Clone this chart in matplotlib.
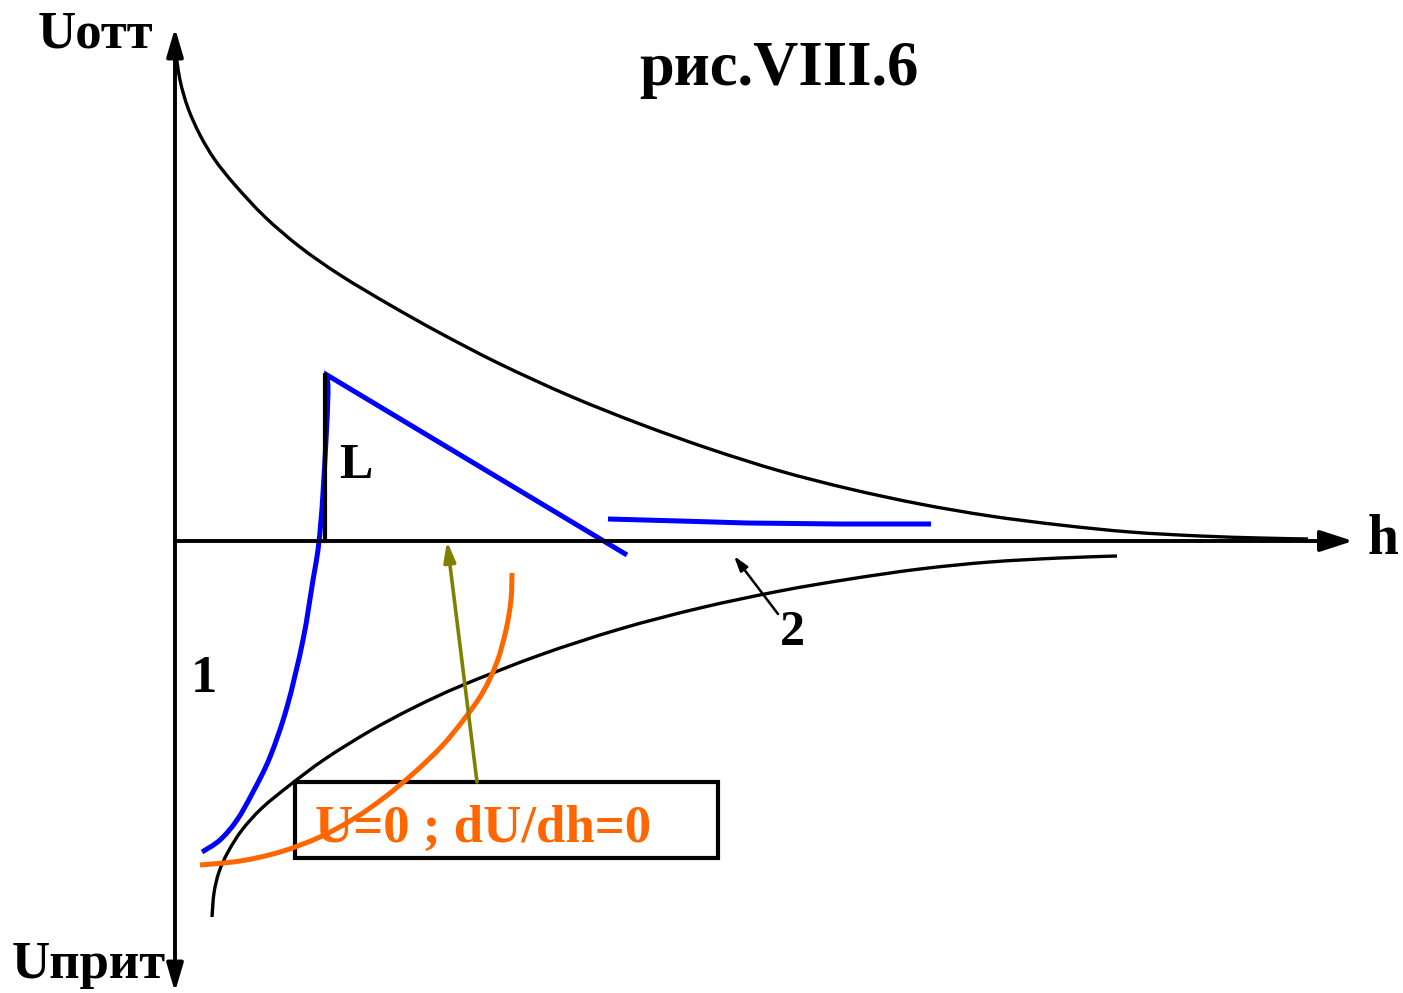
import matplotlib
matplotlib.use("Agg")
import matplotlib.pyplot as plt
import numpy as np
from matplotlib.patches import Rectangle, PathPatch
from matplotlib.path import Path

plt.rcParams['font.family'] = ['Liberation Serif', 'DejaVu Serif']

# ---- data (schematic curves in canvas units) ----
upper_x = [175, 180, 188, 200, 215, 235, 265, 300, 340, 390, 440, 500, 570, 640,
           710, 780, 850, 920, 990, 1060, 1130, 1200, 1260, 1308]
upper_y = [47, 80, 108, 135, 160, 185, 217, 247, 275, 305, 333, 364, 396, 424,
           449, 471, 489, 504, 516, 525, 532, 536, 538, 539]

lower_x = [212, 214, 219, 228, 242, 262, 290, 325, 370, 415, 463, 540, 620, 700,
           780, 850, 920, 990, 1060, 1117]
lower_y = [917, 893, 872, 852, 830, 808, 785, 759, 731, 707, 685, 655, 629, 608,
           591, 579, 569, 562, 558, 556]

blue_curve_x = [202, 220, 237, 253, 270, 287, 303, 313, 318, 321, 323, 326, 328, 327]
blue_curve_y = [852, 840, 820, 792, 757, 707, 640, 580, 550, 520, 493, 440, 393, 375]
blue_line_x = [327, 627]
blue_line_y = [375, 555]

blue2_x = [608, 680, 747, 840, 931]
blue2_y = [519, 521, 523, 524, 524]

orange_x = [200, 240, 280, 320, 355, 385, 415, 442, 465, 483, 497, 506, 511, 512]
orange_y = [865, 861, 852, 837, 818, 797, 772, 746, 718, 692, 662, 630, 600, 573]

L_line_x = [325, 325]
L_line_y = [375, 541]

labels = {
    "title": "рис.VIII.6",
    "yup": "Uотт",
    "ydown": "Uприт",
    "x": "h",
    "L": "L",
    "one": "1",
    "two": "2",
    "box": "U=0 ; dU/dh=0",
}


def smooth_vertices(xs, ys):
    """Catmull-Rom through the given points, expressed as cubic Bezier segments."""
    p = np.column_stack([xs, ys]).astype(float)
    n = len(p)
    verts = [p[0]]
    codes = [Path.MOVETO]
    for i in range(n - 1):
        p0 = p[i - 1] if i > 0 else p[i]
        p1 = p[i]
        p2 = p[i + 1]
        p3 = p[i + 2] if i + 2 < n else p[i + 1]
        c1 = p1 + (p2 - p0) / 6.0
        c2 = p2 - (p3 - p1) / 6.0
        verts += [c1, c2, p2]
        codes += [Path.CURVE4] * 3
    return verts, codes


def add_curve(ax, xs, ys, extra_x=None, extra_y=None, **kw):
    verts, codes = smooth_vertices(xs, ys)
    if extra_x is not None:
        for x, y in zip(extra_x[1:], extra_y[1:]):
            verts.append(np.array([x, y], float))
            codes.append(Path.LINETO)
    patch = PathPatch(Path(verts, codes), fill=False, **kw)
    ax.add_patch(patch)


# ---- figure ----
fig = plt.figure(figsize=(14.03, 9.93), dpi=100)
ax = fig.add_axes([0, 0, 1, 1])
ax.set_xlim(0, 1403)
ax.set_ylim(993, 0)
ax.axis('off')

# axes arrows
ax.annotate("", xy=(175, 28), xytext=(175, 541),
            arrowprops=dict(arrowstyle="-|>,head_length=1.7,head_width=0.5",
                            color="black", lw=2.8, shrinkA=0, shrinkB=0))
ax.annotate("", xy=(175, 992), xytext=(175, 541),
            arrowprops=dict(arrowstyle="-|>,head_length=1.7,head_width=0.5",
                            color="black", lw=2.8, shrinkA=0, shrinkB=0))
ax.annotate("", xy=(1353, 541), xytext=(175, 541),
            arrowprops=dict(arrowstyle="-|>,head_length=2.0,head_width=0.65",
                            color="black", lw=2.8, shrinkA=0, shrinkB=0))

# black curves
add_curve(ax, upper_x, upper_y, edgecolor="black", lw=2.4, capstyle="butt")
add_curve(ax, lower_x, lower_y, edgecolor="black", lw=2.4, capstyle="butt")
ax.plot(L_line_x, L_line_y, color="black", lw=3.0)

# blue curves
add_curve(ax, blue_curve_x, blue_curve_y, blue_line_x, blue_line_y,
          edgecolor="#0000FF", lw=3.6, joinstyle="miter", capstyle="butt")
ax.plot(blue2_x, blue2_y, color="#0000FF", lw=3.6, solid_capstyle="butt")

# box
ax.add_patch(Rectangle((295, 782), 423, 76, fill=False, edgecolor="black", lw=3.0, zorder=2))

# orange curve
add_curve(ax, orange_x, orange_y, edgecolor="#FF6600", lw=3.6, zorder=3, capstyle="butt")

# olive arrow
ax.annotate("", xy=(447, 541), xytext=(477, 782),
            arrowprops=dict(arrowstyle="-|>,head_length=1.2,head_width=0.35",
                            color="#808000", lw=2.6, shrinkA=0, shrinkB=0))

# arrow for label 2
ax.annotate("", xy=(734, 556), xytext=(778, 614),
            arrowprops=dict(arrowstyle="-|>,head_length=0.9,head_width=0.28",
                            color="black", lw=1.8, shrinkA=0, shrinkB=0))

# texts
bold = dict(fontweight="bold", color="black")
ax.text(779, 85, labels["title"], fontsize=45, ha="center", va="baseline", **bold)
ax.text(38, 48, labels["yup"], fontsize=38, ha="left", va="baseline", **bold)
ax.text(12, 978, labels["ydown"], fontsize=38, ha="left", va="baseline", **bold)
ax.text(1368, 554, labels["x"], fontsize=40, ha="left", va="baseline", **bold)
ax.text(339, 478, labels["L"], fontsize=36, ha="left", va="baseline", **bold)
ax.text(204, 692, labels["one"], fontsize=38, ha="center", va="baseline", **bold)
ax.text(792, 645, labels["two"], fontsize=36, ha="center", va="baseline", **bold)
ax.text(483, 842, labels["box"], fontsize=38, ha="center", va="baseline",
        fontweight="bold", color="#FF6600", zorder=4)

fig.savefig("out.png", dpi=100)
